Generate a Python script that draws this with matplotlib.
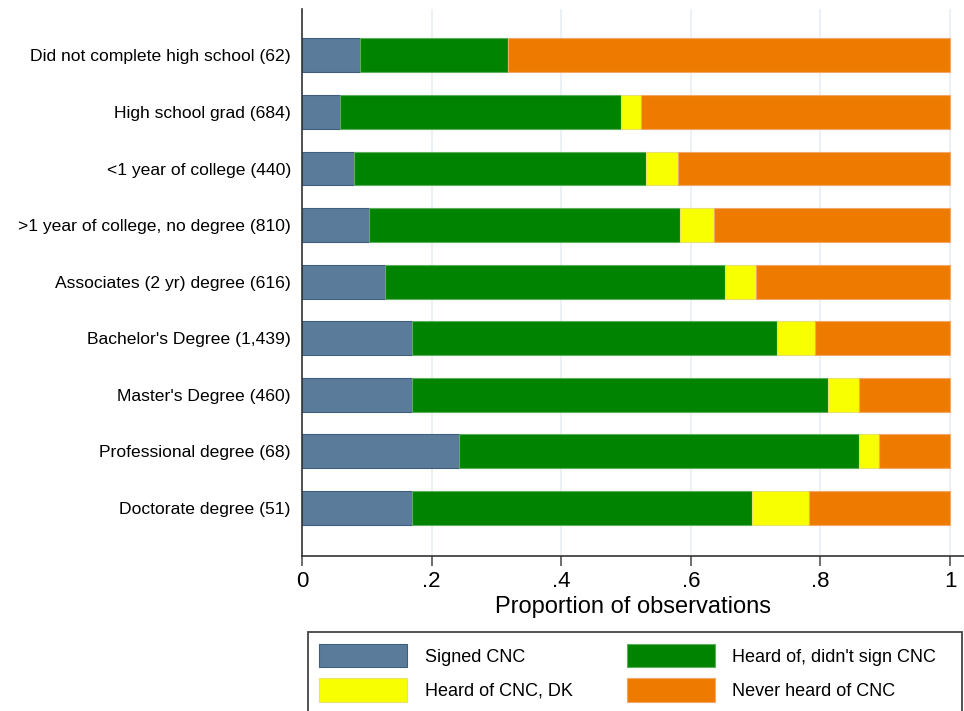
"""
Awareness of non-compete agreements (CNC) by education level
Stacked horizontal bar chart of response shares
"""
import matplotlib
matplotlib.use('Agg')
import matplotlib.pyplot as plt
from matplotlib.patches import Rectangle
import numpy as np

plt.rcParams['font.family'] = ['Liberation Sans', 'DejaVu Sans']

# 学歴カテゴリ（括弧内はサンプル数）
categories = [
    "Did not complete high school (62)",
    "High school grad (684)",
    "<1 year of college (440)",
    ">1 year of college, no degree (810)",
    "Associates (2 yr) degree (616)",
    "Bachelor's Degree (1,439)",
    "Master's Degree (460)",
    "Professional degree (68)",
    "Doctorate degree (51)",
]

# 各回答の割合
signed = [0.089, 0.059, 0.081, 0.104, 0.128, 0.169, 0.169, 0.243, 0.169]
heard_not_signed = [0.229, 0.433, 0.450, 0.479, 0.525, 0.564, 0.642, 0.617, 0.526]
heard_dk = [0.000, 0.031, 0.050, 0.053, 0.047, 0.058, 0.049, 0.030, 0.087]
never_heard = [0.682, 0.477, 0.419, 0.364, 0.300, 0.209, 0.140, 0.110, 0.218]

series_labels = ["Signed CNC", "Heard of, didn't sign CNC",
                 "Heard of CNC, DK", "Never heard of CNC"]
x_ticks = [0, 0.2, 0.4, 0.6, 0.8, 1.0]
x_tick_labels = ["0", ".2", ".4", ".6", ".8", "1"]

colors = ['#5b7b9b', '#008400', '#f7ff00', '#ee7b00']
edges = ['#3f5f80', '#5fae5f', '#e8e070', '#f3a766']

W, H = 964, 711
fig = plt.figure(figsize=(W / 100, H / 100), dpi=100)
ax = fig.add_axes([302 / W, 1 - 556 / H, (W - 302) / W, (556 - 9) / H])

y = np.arange(len(categories))
left = np.zeros(len(categories))
handles = []
for vals, color, edge, label in zip(
        [signed, heard_not_signed, heard_dk, never_heard],
        colors, edges, series_labels):
    vals = np.array(vals)
    bars = ax.barh(y, vals, left=left, height=0.6, color=color,
                   edgecolor=edge, linewidth=0.8, label=label, zorder=2)
    handles.append(bars)
    left += vals

ax.set_xlim(0, (W - 302) / 648)
ax.set_ylim(8.85, -0.82)
ax.set_yticks(y)
ax.set_yticklabels(categories, fontsize=12.6)
ax.set_xticks(x_ticks)
ax.set_xticklabels(x_tick_labels, fontsize=16)
ax.set_xlabel('Proportion of observations', fontsize=17, labelpad=3)

ax.tick_params(axis='y', length=0, pad=8)
ax.tick_params(axis='x', length=7, width=1.2, color='#555555', pad=4)

ax.grid(True, axis='x', color='#e6eef2', linewidth=1.1, zorder=0)
ax.set_axisbelow(True)

for side in ['top', 'right']:
    ax.spines[side].set_visible(False)
for side in ['left', 'bottom']:
    ax.spines[side].set_color('#333333')
    ax.spines[side].set_linewidth(1.2)

# 凡例: 1行目に Signed / Heard of, didn't sign、2行目に DK / Never heard
order = [0, 2, 1, 3]
fig.legend(handles=[handles[i] for i in order],
           labels=[series_labels[i] for i in order],
           loc='upper left', bbox_to_anchor=(319 / W, 1 - 644 / H),
           ncol=2, frameon=False, fontsize=13, borderpad=0,
           borderaxespad=0, handlelength=4.9, handleheight=1.6,
           handletextpad=0.95, columnspacing=3.0, labelspacing=0.62)

# 凡例の枠（下端は図の外まで）
fig.patches.append(Rectangle((308 / W, -0.05), (962 - 308) / W,
                             1 - 632 / H + 0.05, transform=fig.transFigure,
                             fill=False, edgecolor='#444444', linewidth=1.3))

fig.savefig('out.png', dpi=100)
plt.close(fig)
